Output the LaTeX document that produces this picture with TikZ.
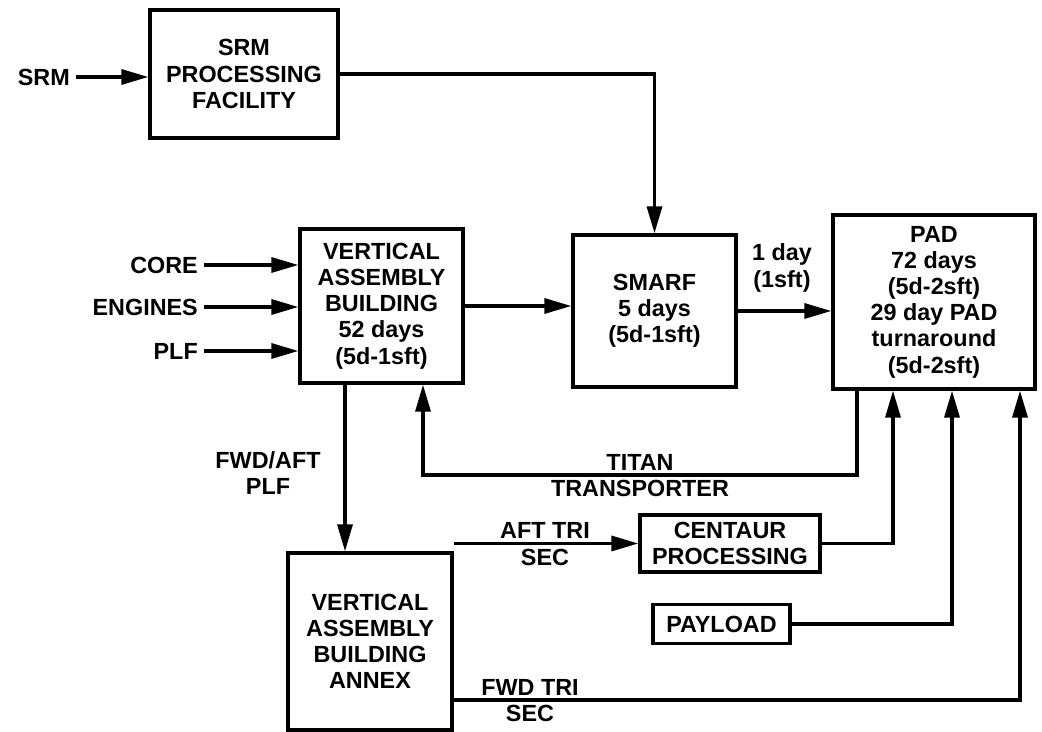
\documentclass[tikz,border=0pt]{standalone}
\usepackage{fontspec}
\setmainfont{Liberation Sans}
\usetikzlibrary{arrows.meta,calc}

\begin{document}
\begin{tikzpicture}[
    x=0.02cm, y=-0.02cm,
    >={Triangle[length=0.54cm,width=0.3cm]},
    box/.style={rectangle,draw,line width=1.9pt,align=center,inner sep=2pt,
                font=\fontsize{13.3}{14.9}\selectfont\bfseries},
    lbl/.style={align=center,font=\fontsize{13.3}{14.9}\selectfont\bfseries},
    arr/.style={->,line width=1.9pt}
  ]
  \useasboundingbox (0,0) rectangle (1042,732);
  \node[box,minimum width=3.76cm,minimum height=2.56cm] (srmpf)   at (244,74)    {SRM\\PROCESSING\\FACILITY};
  \node[box,minimum width=3.26cm,minimum height=3.04cm] (smarf)   at (654.5,311) {SMARF\\5 days\\(5d-1sft)};
  \node[box,minimum width=4.04cm,minimum height=3.48cm] (pad)     at (934,302)   {PAD\\72 days\\(5d-2sft)\\29 day PAD\\turnaround\\(5d-2sft)};
  \node[box,minimum width=3.26cm,minimum height=3.08cm] (vab)     at (381.5,306) {VERTICAL\\ASSEMBLY\\BUILDING\\52 days\\(5d-1sft)};
  \node[box,minimum width=3.28cm,minimum height=3.54cm] (annex)   at (370,641.5) {VERTICAL\\ASSEMBLY\\BUILDING\\ANNEX};
  \node[box,minimum width=3.6cm,minimum height=1.14cm]  (centaur) at (730,543.5) {CENTAUR\\PROCESSING};
  \node[box,minimum width=2.74cm,minimum height=0.78cm] (payload) at (721.5,624) {PAYLOAD};
  \node[lbl,anchor=east] (srm)     at (76,77)  {SRM};
  \node[lbl,anchor=east] (core)    at (204,265) {CORE};
  \node[lbl,anchor=east] (engines) at (204,307) {ENGINES};
  \node[lbl,anchor=east] (plf)     at (204,351) {PLF};
  \node[lbl] (oneday)  at (782,268) {1 day\\(1sft)};
  \node[lbl] (titan)   at (640,475.5) {TITAN\\TRANSPORTER};
  \node[lbl] (fwdaft)  at (268,473) {FWD/AFT\\PLF};
  \node[lbl] (afttri)  at (545,544) {AFT TRI\\SEC};
  \node[lbl] (fwdtri)  at (530,700.5) {FWD TRI\\SEC};
  \coordinate (down)  at (345,0);
  \coordinate (tup)   at (857,475);
  \coordinate (tback) at (423,475);
  \coordinate (cup)   at (893,0);
  \coordinate (pup)   at (952,0);
  \coordinate (fup)   at (1020,0);
  \coordinate (fwd)   at (0,700);
  \draw[arr] (srm.east) -- (srm.east -| srmpf.west);
  \draw[arr] (srmpf.east) -| (smarf.north);
  \draw[arr] (core.east) -- (core.east -| vab.west);
  \draw[arr] (engines.east) -- (engines.east -| vab.west);
  \draw[arr] (plf.east) -- (plf.east -| vab.west);
  \draw[arr] (vab.east) -- (vab.east -| smarf.west);
  \draw[arr] (smarf.east) -- (smarf.east -| pad.west);
  \draw[arr] (tup |- pad.south) -- (tup) -- (tback) -- (tback |- vab.south);
  \draw[arr] (down |- vab.south) -- (down |- annex.north);
  \draw[arr] (centaur.west -| annex.east) -- (centaur.west);
  \draw[arr] (centaur.east) -| (cup |- pad.south);
  \draw[arr] (payload.east) -| (pup |- pad.south);
  \draw[arr] (fwd -| annex.east) -| (fup |- pad.south);
\end{tikzpicture}
\end{document}
